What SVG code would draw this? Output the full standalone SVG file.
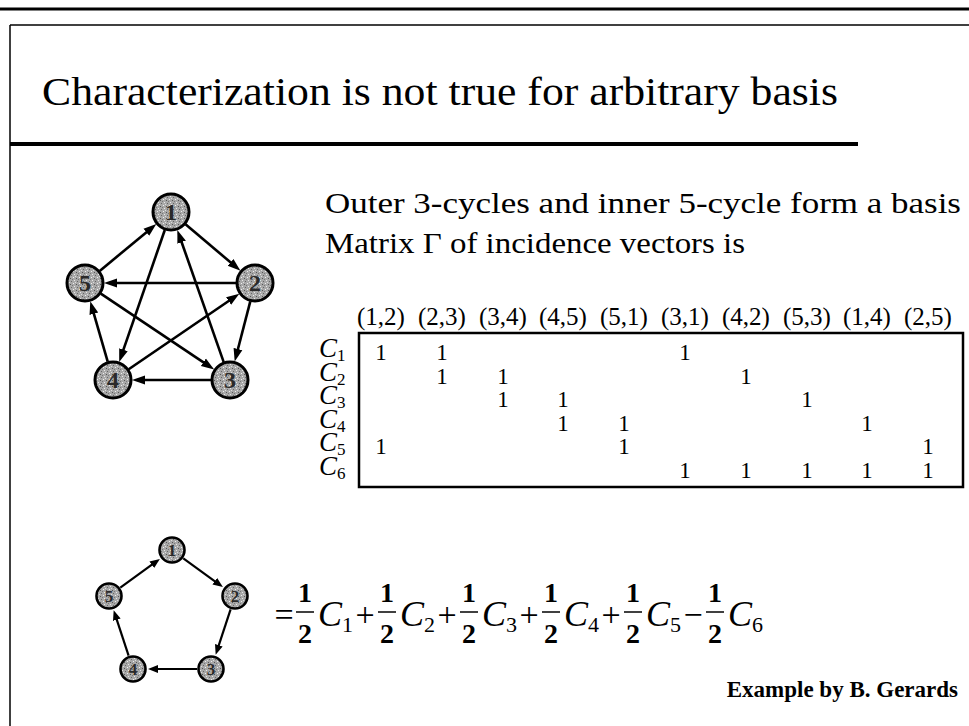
<svg xmlns="http://www.w3.org/2000/svg" width="969" height="726" viewBox="0 0 969 726">
<style>
  .serif { font-family: "Liberation Serif", "Times New Roman", serif; fill: #000; }
  .title { font-size: 39px; }
  .body { font-size: 30px; }
  .hdr { font-size: 25px; text-anchor: middle; }
  .one { font-size: 23px; text-anchor: middle; }
  .clab { font-size: 27px; font-style: italic; }
  .csub { font-size: 17px; font-style: normal; }
  .fr { font-size: 28px; font-weight: bold; text-anchor: middle; }
  .eqC { font-size: 36px; font-style: italic; }
  .eqS { font-size: 22px; font-style: normal; }
  .op { font-size: 34px; text-anchor: middle; }
  .credit { font-size: 23px; font-weight: bold; text-anchor: end; }
  .edge { stroke: #000; stroke-width: 2.6; fill: none; }
  .edgeS { stroke: #000; stroke-width: 2.2; fill: none; }
  .node { fill: url(#stip); stroke: #000; stroke-width: 3; }
  .nodeS { fill: url(#stip); stroke: #000; stroke-width: 2.6; }
  .nlab { font-family: "Liberation Serif", "Times New Roman", serif; font-weight: bold; font-size: 24px; text-anchor: middle; fill: #2a2a2a; }
  .nlabS { font-family: "Liberation Serif", "Times New Roman", serif; font-weight: bold; font-size: 17px; text-anchor: middle; fill: #2a2a2a; }
  .frame { stroke: #000; fill: none; }
</style>
<defs>
  <pattern id="stip" width="6" height="6" patternUnits="userSpaceOnUse">
    <rect width="6" height="6" fill="#a8a8a8"/>
    <rect x="1" y="1" width="1" height="1" fill="#f0f0f0"/>
    <rect x="4" y="2" width="1" height="1" fill="#555"/>
    <rect x="2" y="4" width="1" height="1" fill="#e8e8e8"/>
    <rect x="5" y="5" width="1" height="1" fill="#666"/>
    <rect x="0" y="3" width="1" height="1" fill="#777"/>
    <rect x="3" y="0" width="1" height="1" fill="#ddd"/>
  </pattern>
  <marker id="ah" markerUnits="userSpaceOnUse" markerWidth="14" markerHeight="12" refX="1" refY="5.5" orient="auto">
    <path d="M0,1 L13,5.5 L0,10 z" fill="#000"/>
  </marker>
  <marker id="ahS" markerUnits="userSpaceOnUse" markerWidth="11" markerHeight="10" refX="1" refY="4.5" orient="auto">
    <path d="M0,0.5 L10,4.5 L0,8.5 z" fill="#000"/>
  </marker>
</defs>

<g id="frame">
  <line x1="0" y1="9" x2="969" y2="9" stroke="#000" stroke-width="3"/>
  <line x1="10" y1="25" x2="969" y2="25" stroke="#000" stroke-width="1.5"/>
  <line x1="10" y1="25" x2="10" y2="726" stroke="#000" stroke-width="1.5"/>
  <line x1="10" y1="144" x2="858" y2="144" stroke="#000" stroke-width="4"/>
</g>

<text id="title" class="serif title" x="42" y="105" textLength="796" lengthAdjust="spacingAndGlyphs">Characterization is not true for arbitrary basis</text>
<text id="line1" class="serif body" x="325" y="213" textLength="636" lengthAdjust="spacingAndGlyphs">Outer 3-cycles and inner 5-cycle form a basis</text>
<text id="line2" class="serif body" x="325" y="253" textLength="420" lengthAdjust="spacingAndGlyphs">Matrix Γ of incidence vectors is</text>

<g id="connectors">
  <line class="edge" x1="185.5" y1="224.3" x2="231.3" y2="263.0" marker-end="url(#ah)"/>
  <line class="edge" x1="250.3" y1="301.4" x2="237.7" y2="350.0" marker-end="url(#ah)"/>
  <line class="edge" x1="211" y1="380" x2="144" y2="380" marker-end="url(#ah)"/>
  <line class="edge" x1="107.7" y1="361.7" x2="93.6" y2="312.8" marker-end="url(#ah)"/>
  <line class="edge" x1="99.7" y1="270.9" x2="147.1" y2="231.7" marker-end="url(#ah)"/>
  <line class="edge" x1="223.7" y1="362.1" x2="181.3" y2="241.2" marker-end="url(#ah)"/>
  <line class="edge" x1="128.7" y1="369.3" x2="229.4" y2="300.5" marker-end="url(#ah)"/>
  <line class="edge" x1="100.8" y1="293.6" x2="204.2" y2="362.8" marker-end="url(#ah)"/>
  <line class="edge" x1="164.8" y1="230.0" x2="123.1" y2="350.7" marker-end="url(#ah)"/>
  <line class="edge" x1="236" y1="283" x2="116" y2="283" marker-end="url(#ah)"/>

  <line class="edgeS" x1="183.3" y1="558.3" x2="215.6" y2="581.8" marker-end="url(#ahS)"/>
  <line class="edgeS" x1="230.6" y1="609.3" x2="218.5" y2="646.2" marker-end="url(#ahS)"/>
  <line class="edgeS" x1="197" y1="669" x2="157" y2="669" marker-end="url(#ahS)"/>
  <line class="edgeS" x1="128.6" y1="655.7" x2="116.5" y2="618.8" marker-end="url(#ahS)"/>
  <line class="edgeS" x1="120.3" y1="587.7" x2="152.6" y2="564.2" marker-end="url(#ahS)"/>
</g>

<g id="n1"><circle class="node" cx="171" cy="212" r="18"/><text class="nlab" x="171" y="220">1</text></g>
<g id="n2"><circle class="node" cx="255" cy="283" r="18"/><text class="nlab" x="255" y="291">2</text></g>
<g id="n3"><circle class="node" cx="230" cy="380" r="18"/><text class="nlab" x="230" y="388">3</text></g>
<g id="n4"><circle class="node" cx="113" cy="380" r="18"/><text class="nlab" x="113" y="388">4</text></g>
<g id="n5"><circle class="node" cx="85" cy="283" r="18"/><text class="nlab" x="85" y="291">5</text></g>

<g id="s1"><circle class="nodeS" cx="172" cy="550" r="12.5"/><text class="nlabS" x="172" y="556">1</text></g>
<g id="s2"><circle class="nodeS" cx="235" cy="596" r="12.5"/><text class="nlabS" x="235" y="602">2</text></g>
<g id="s3"><circle class="nodeS" cx="211" cy="669" r="12.5"/><text class="nlabS" x="211" y="675">3</text></g>
<g id="s4"><circle class="nodeS" cx="133" cy="669" r="12.5"/><text class="nlabS" x="133" y="675">4</text></g>
<g id="s5"><circle class="nodeS" cx="109" cy="596" r="12.5"/><text class="nlabS" x="109" y="602">5</text></g>

<g id="matrix">
  <rect class="frame" x="359" y="333" width="604" height="154" stroke-width="2.5"/>
  <g class="serif hdr">
    <text x="381" y="325">(1,2)</text>
    <text x="442" y="325">(2,3)</text>
    <text x="503" y="325">(3,4)</text>
    <text x="563" y="325">(4,5)</text>
    <text x="624" y="325">(5,1)</text>
    <text x="685" y="325">(3,1)</text>
    <text x="746" y="325">(4,2)</text>
    <text x="807" y="325">(5,3)</text>
    <text x="867" y="325">(1,4)</text>
    <text x="928" y="325">(2,5)</text>
  </g>
  <g class="serif">
    <text class="clab" x="319" y="357">C<tspan class="csub" dy="4">1</tspan></text>
    <text class="clab" x="319" y="380.5">C<tspan class="csub" dy="4">2</tspan></text>
    <text class="clab" x="319" y="404">C<tspan class="csub" dy="4">3</tspan></text>
    <text class="clab" x="319" y="427.5">C<tspan class="csub" dy="4">4</tspan></text>
    <text class="clab" x="319" y="451">C<tspan class="csub" dy="4">5</tspan></text>
    <text class="clab" x="319" y="474.5">C<tspan class="csub" dy="4">6</tspan></text>
  </g>
  <g class="serif one">
    <text x="381" y="360">1</text><text x="442" y="360">1</text><text x="685" y="360">1</text>
    <text x="442" y="383.5">1</text><text x="503" y="383.5">1</text><text x="746" y="383.5">1</text>
    <text x="503" y="407">1</text><text x="563" y="407">1</text><text x="807" y="407">1</text>
    <text x="563" y="430.5">1</text><text x="624" y="430.5">1</text><text x="867" y="430.5">1</text>
    <text x="381" y="454">1</text><text x="624" y="454">1</text><text x="928" y="454">1</text>
    <text x="685" y="477.5">1</text><text x="746" y="477.5">1</text><text x="807" y="477.5">1</text><text x="867" y="477.5">1</text><text x="928" y="477.5">1</text>
  </g>
</g>

<g id="equation" class="serif">
  <text class="op" x="284" y="626">=</text>
  <g>
    <text class="fr" x="305" y="602">1</text><line x1="296" y1="612" x2="314" y2="612" stroke="#000" stroke-width="1.5"/><text class="fr" x="305" y="643">2</text>
    <text class="eqC" x="318" y="626">C<tspan class="eqS" dy="6">1</tspan></text>
    <text class="op" x="365" y="626">+</text>
  </g>
  <g>
    <text class="fr" x="387" y="602">1</text><line x1="378" y1="612" x2="396" y2="612" stroke="#000" stroke-width="1.5"/><text class="fr" x="387" y="643">2</text>
    <text class="eqC" x="400" y="626">C<tspan class="eqS" dy="6">2</tspan></text>
    <text class="op" x="447" y="626">+</text>
  </g>
  <g>
    <text class="fr" x="469" y="602">1</text><line x1="460" y1="612" x2="478" y2="612" stroke="#000" stroke-width="1.5"/><text class="fr" x="469" y="643">2</text>
    <text class="eqC" x="482" y="626">C<tspan class="eqS" dy="6">3</tspan></text>
    <text class="op" x="529" y="626">+</text>
  </g>
  <g>
    <text class="fr" x="551" y="602">1</text><line x1="542" y1="612" x2="560" y2="612" stroke="#000" stroke-width="1.5"/><text class="fr" x="551" y="643">2</text>
    <text class="eqC" x="564" y="626">C<tspan class="eqS" dy="6">4</tspan></text>
    <text class="op" x="611" y="626">+</text>
  </g>
  <g>
    <text class="fr" x="633" y="602">1</text><line x1="624" y1="612" x2="642" y2="612" stroke="#000" stroke-width="1.5"/><text class="fr" x="633" y="643">2</text>
    <text class="eqC" x="646" y="626">C<tspan class="eqS" dy="6">5</tspan></text>
    <text class="op" x="693" y="626">−</text>
  </g>
  <g>
    <text class="fr" x="715" y="602">1</text><line x1="706" y1="612" x2="724" y2="612" stroke="#000" stroke-width="1.5"/><text class="fr" x="715" y="643">2</text>
    <text class="eqC" x="728" y="626">C<tspan class="eqS" dy="6">6</tspan></text>
  </g>
</g>

<text id="credit" class="serif credit" x="958" y="697">Example by B. Gerards</text>
</svg>
